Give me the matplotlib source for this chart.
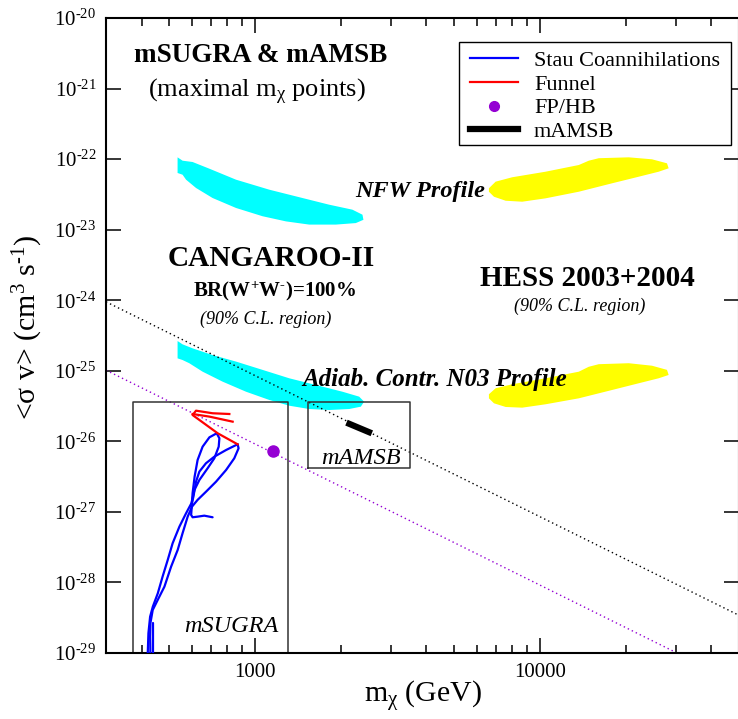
import math
import matplotlib
matplotlib.use('Agg')
import matplotlib.pyplot as plt
from matplotlib.ticker import LogLocator, NullLocator, FuncFormatter, NullFormatter, FixedLocator
from matplotlib.lines import Line2D
from matplotlib.patches import Rectangle

plt.rcParams['font.family'] = ['Liberation Serif', 'DejaVu Serif']
plt.rcParams['mathtext.fontset'] = 'custom'
plt.rcParams['mathtext.rm'] = 'Liberation Serif'
plt.rcParams['mathtext.it'] = 'Liberation Serif:italic'
plt.rcParams['mathtext.bf'] = 'Liberation Serif:bold'
plt.rcParams['axes.unicode_minus'] = False

# ---------------- data ----------------
# CANGAROO-II regions (NFW upper, adiabatically contracted N03 lower)
cang_nfw_m = [535, 557, 604, 692, 858, 1122, 1468, 1821, 2198, 2384, 2403, 2259, 1923, 1550,
              1285, 1063, 858, 710, 621, 573, 557, 535]
cang_nfw_sv = [1.06e-22, 9.50e-23, 9.10e-23, 7.31e-23, 5.11e-23, 3.69e-23, 2.81e-23, 2.26e-23,
               1.92e-23, 1.63e-23, 1.38e-23, 1.24e-23, 1.18e-23, 1.18e-23, 1.31e-23, 1.55e-23,
               2.03e-23, 2.81e-23, 3.90e-23, 5.11e-23, 6.01e-23, 6.36e-23]
cang_n03_m = [535, 557, 604, 710, 858, 1063, 1319, 1636, 2028, 2321, 2416, 2353, 2141, 1821,
              1550, 1319, 1122, 930, 770, 655, 588, 557, 535]
cang_n03_sv = [2.64e-25, 2.37e-25, 2.08e-25, 1.67e-25, 1.35e-25, 1.03e-25, 7.83e-26, 6.29e-26,
               5.05e-26, 4.30e-26, 3.65e-26, 3.10e-26, 2.87e-26, 2.78e-26, 2.87e-26, 3.20e-26,
               3.86e-26, 5.05e-26, 7.01e-26, 9.71e-26, 1.28e-25, 1.42e-25, 1.50e-25]

# HESS 2003+2004 regions
hess_m = [6625, 6993, 7996, 10470, 13700, 14850, 16100, 20510, 24750, 27940, 28320, 26130,
          22230, 17920, 13700, 10470, 8670, 7583, 6900, 6625]
hess_nfw_sv = [3.86e-23, 4.79e-23, 5.53e-23, 6.63e-23, 8.25e-23, 9.50e-23, 1.03e-22, 1.06e-22,
               9.94e-23, 8.72e-23, 7.41e-23, 6.63e-23, 5.63e-23, 4.54e-23, 3.45e-23, 2.78e-23,
               2.49e-23, 2.57e-23, 2.93e-23, 3.45e-23]
hess_n03_sv = [4.65e-26, 5.65e-26, 6.44e-26, 7.83e-26, 9.71e-26, 1.14e-25, 1.24e-25, 1.28e-25,
               1.18e-25, 1.03e-25, 8.72e-26, 7.83e-26, 6.65e-26, 5.34e-26, 4.07e-26, 3.35e-26,
               3.00e-26, 3.07e-26, 3.46e-26, 4.07e-26]

# reference dotted lines (sigma v ~ m^-2)
black_line_m = [300, 50000]
black_line_sv = [9.5e-25, 3.42e-29]
purple_line_m = [300, 30000]
purple_line_sv = [1.02e-25, 1.02e-29]

# Funnel (red)
funnel_a_m = [869, 740, 604, 621, 710, 813]
funnel_a_sv = [9.08e-27, 1.30e-26, 2.36e-26, 2.72e-26, 2.50e-26, 2.44e-26]
funnel_b_m = [604, 692, 835]
funnel_b_sv = [2.44e-26, 2.24e-26, 1.90e-26]

# Stau coannihilations (blue)
stau1_m = [734, 692, 655, 629, 614, 604, 600, 597, 604, 629, 664, 710]
stau1_sv = [1.30e-26, 1.14e-26, 8.40e-27, 5.44e-27, 3.16e-27, 1.84e-27, 1.19e-27, 9.04e-28,
            8.39e-28, 8.56e-28, 8.84e-28, 8.39e-28]
stau2_m = [734, 750, 746, 720, 682, 638, 613, 598, 573, 543, 514, 494, 474, 456, 438, 428.5,
           422.7, 420.4]
stau2_sv = [1.30e-26, 1.105e-26, 8.40e-27, 5.75e-27, 4.15e-27, 2.83e-27, 2.04e-27, 1.32e-27,
            9.56e-28, 6.18e-28, 3.59e-28, 2.08e-28, 1.21e-28, 7.02e-29, 4.54e-29, 3.27e-29,
            1.91e-29, 9.9e-30]
stau3_m = [869, 792, 720, 673, 638, 621, 608, 597]
stau3_sv = [9.08e-27, 7.54e-27, 6.06e-27, 4.89e-27, 3.72e-27, 2.68e-27, 1.64e-27, 1.19e-27]
stau4_m = [869, 876, 846, 792, 730, 673, 629, 601.5, 580.5, 557, 535.5, 507.6, 481, 455.6,
           437.6, 429.5, 428.5, 429.5]
stau4_sv = [9.08e-27, 7.97e-27, 5.75e-27, 3.93e-27, 2.68e-27, 1.93e-27, 1.48e-27, 1.19e-27,
            8.56e-28, 4.98e-28, 2.89e-28, 1.67e-28, 8.71e-29, 5.64e-29, 4.07e-29, 2.64e-29,
            1.70e-29, 9.9e-30]
stau5_m = [440, 440]
stau5_sv = [2.69e-29, 9.9e-30]

# FP/HB point
fphb_m = [1159]
fphb_sv = [7.3e-27]

# mAMSB segment
mamsb_m = [2095, 2571]
mamsb_sv = [1.84e-26, 1.30e-26]

# annotation boxes
msugra_box_m = [372, 372, 1301, 1301]
msugra_box_sv = [1e-29, 3.65e-26, 3.65e-26, 1e-29]
mamsb_box_m = [1541, 1541, 3491, 3491, 1541]
mamsb_box_sv = [4.24e-27, 3.65e-26, 3.65e-26, 4.24e-27, 4.24e-27]

legend_labels = ['Stau Coannihilations', 'Funnel', 'FP/HB', 'mAMSB']
x_major_ticks = [1000, 10000]
y_major_exps = [-29, -28, -27, -26, -25, -24, -23, -22, -21, -20]
x_lim = (300, 50000)
y_lim = (1e-29, 1e-20)

HY = '\u2010'  # hyphen used in the exponents of the original

# ---------------- figure ----------------
W, H = 738, 719
fig = plt.figure(figsize=(W / 100, H / 100), dpi=100)
ax = fig.add_axes([106 / W, 1 - 653 / H, 633 / W, 635 / H])
ax.set_xscale('log')
ax.set_yscale('log')
ax.set_xlim(*x_lim)
ax.set_ylim(*y_lim)

cyan = '#00ffff'
yellow = '#ffff00'
purple = '#9400d3'
blue = '#0000ff'
red = '#ff0000'

ax.fill(cang_nfw_m, cang_nfw_sv, color=cyan, lw=0, zorder=1)
ax.fill(cang_n03_m, cang_n03_sv, color=cyan, lw=0, zorder=1)
ax.fill(hess_m, hess_nfw_sv, color=yellow, lw=0, zorder=1)
ax.fill(hess_m, hess_n03_sv, color=yellow, lw=0, zorder=1)

ax.plot(black_line_m, black_line_sv, ls=(0, (1, 2.2)), color='black', lw=1.0, zorder=2)
ax.plot(purple_line_m, purple_line_sv, ls=(0, (1, 2.2)), color=purple, lw=1.0, zorder=2)

ax.plot(msugra_box_m, msugra_box_sv, color='#333333', lw=1.1, zorder=2, clip_on=False)
ax.plot(mamsb_box_m, mamsb_box_sv, color='#333333', lw=1.1, zorder=2)

lw_c = 1.6
for xm, ys in [(stau1_m, stau1_sv), (stau2_m, stau2_sv), (stau3_m, stau3_sv),
               (stau4_m, stau4_sv), (stau5_m, stau5_sv)]:
    ax.plot(xm, ys, color=blue, lw=lw_c, zorder=3, solid_joinstyle='round',
            solid_capstyle='round')
ax.plot(funnel_a_m, funnel_a_sv, color=red, lw=lw_c, zorder=3, solid_joinstyle='round')
ax.plot(funnel_b_m, funnel_b_sv, color=red, lw=lw_c, zorder=3)
ax.plot(fphb_m, fphb_sv, 'o', color=purple, ms=8, zorder=4, ls='none')
ax.plot(mamsb_m, mamsb_sv, color='black', lw=4.5, zorder=4, solid_capstyle='butt')

# axes styling
for s in ax.spines.values():
    s.set_linewidth(1.5)
ax.xaxis.set_major_locator(FixedLocator(x_major_ticks))
ax.xaxis.set_minor_locator(LogLocator(base=10, subs=range(2, 10), numticks=20))
ax.xaxis.set_major_formatter(FuncFormatter(lambda v, p: f'{int(round(v))}'))
ax.xaxis.set_minor_formatter(NullFormatter())
ax.yaxis.set_major_locator(FixedLocator([10.0 ** e for e in y_major_exps]))
ax.yaxis.set_minor_locator(NullLocator())


def yfmt(v, p):
    e = int(round(math.log10(v)))
    s = f'{HY}{-e}' if e < 0 else f'{e}'
    return f'10$^{{\\mathrm{{{s}}}}}$'


ax.yaxis.set_major_formatter(FuncFormatter(yfmt))
ax.tick_params(which='both', direction='in', top=True, right=True, width=1.1)
ax.tick_params(which='major', length=11, labelsize=15, pad=7)
ax.tick_params(which='minor', length=5.8)


def fx(px):
    return px / W


def fy(py):
    return 1 - py / H


fig.text(fx(423), fy(703), 'm$_{\\mathrm{χ}}$ (GeV)', fontsize=21.5, ha='center', va='baseline')
fig.text(fx(28), fy(327), f'<σ v> (cm$^{{3}}$ s$^{{\\mathrm{{{HY}1}}}}$)', fontsize=21.5,
         rotation=90, ha='center', va='center')

fig.text(fx(261), fy(62), 'mSUGRA & mAMSB', fontsize=19.5, weight='bold', ha='center', va='baseline')
fig.text(fx(257), fy(97), '(maximal m$_{\\mathrm{χ}}$ points)', fontsize=19, ha='center', va='baseline')
fig.text(fx(485), fy(196.5), 'NFW Profile', fontsize=17.5, weight='bold', style='italic',
         ha='right', va='baseline', zorder=6)
fig.text(fx(271.5), fy(266.5), 'CANGAROO-II', fontsize=21.2, weight='bold', ha='center', va='baseline')
fig.text(fx(274.5), fy(296.5), f'BR(W$^{{\\mathbf{{+}}}}$W$^{{\\mathbf{{{HY}}}}}$)=100%', fontsize=15,
         weight='bold', ha='center', va='baseline')
fig.text(fx(266), fy(324), '(90% C.L. region)', fontsize=13, style='italic', ha='center', va='baseline')
fig.text(fx(587.5), fy(286.5), 'HESS 2003+2004', fontsize=21, weight='bold', ha='center', va='baseline')
fig.text(fx(580), fy(311), '(90% C.L. region)', fontsize=13, style='italic', ha='center', va='baseline')
fig.text(fx(435), fy(386), 'Adiab. Contr. N03 Profile', fontsize=18, weight='bold', style='italic',
         ha='center', va='baseline', zorder=6)
fig.text(fx(231.5), fy(632.5), 'mSUGRA', fontsize=17.5, style='italic', ha='center', va='baseline')
fig.text(fx(361), fy(463.5), 'mAMSB', fontsize=17.5, style='italic', ha='center', va='baseline')

# legend: frame drawn separately so its padding matches the original
leg_frame = Rectangle((fx(459), fy(145)), (731 - 459) / W, (145 - 42) / H,
                      transform=fig.transFigure, facecolor='white', edgecolor='black',
                      lw=1.0, zorder=5)
ax.add_artist(leg_frame)
leg_handles = [Line2D([], [], color=blue, lw=1.6),
               Line2D([], [], color=red, lw=1.6),
               Line2D([], [], color=purple, marker='o', ls='none', ms=7),
               Line2D([], [], color='black', lw=4.5)]
leg = ax.legend(leg_handles, legend_labels,
                loc='upper left', bbox_to_anchor=(fx(470), fy(50.5)),
                bbox_transform=fig.transFigure, borderaxespad=0, fontsize=16, frameon=False,
                handlelength=2.16, handletextpad=0.72, labelspacing=0.14, borderpad=0)
leg.set_zorder(6)

fig.savefig('out.png', dpi=100)
